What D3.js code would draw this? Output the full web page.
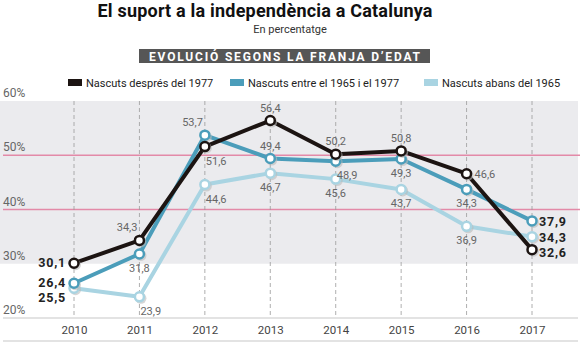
<!DOCTYPE html>
<html>
<head>
<meta charset="utf-8">
<script src="https://cdn.jsdelivr.net/npm/d3@7"></script>
<style>
body { margin: 0; background: #fff; }
svg { display: block; font-family: Roboto, "Open Sans", sans-serif; }
</style>
</head>
<body>
<script>
// data
var years = [2010, 2011, 2012, 2013, 2014, 2015, 2016, 2017]
var seriesNames = ['Nascuts després del 1977', 'Nascuts entre el 1965 i el 1977', 'Nascuts abans del 1965']
var after1977 = [30.1, 34.3, 51.6, 56.4, 50.2, 50.8, 46.6, 32.6]
var between = [26.4, 31.8, 53.7, 49.4, 48.9, 49.3, 43.7, 37.9]
var before1965 = [25.5, 23.9, 44.6, 46.7, 45.6, 43.7, 36.9, 35.0]
// printed labels (the source prints 34,3 for the middle group in 2016)
var after1977Labels = ['30,1', '34,3', '51,6', '56,4', '50,2', '50,8', '46,6', '32,6']
var betweenLabels = ['26,4', '31,8', '53,7', '49,4', '48,9', '49,3', '34,3', '37,9']
var before1965Labels = ['25,5', '23,9', '44,6', '46,7', '45,6', '43,7', '36,9', '34,3']
var yTicks = [20, 30, 40, 50, 60]

var colors = ['#1c1412', '#4b9dba', '#a9d4e2']

// where each label goes: L/R = bold at the ends, a = above, b = below, al/br = diagonal, r = right
var placeAfter = ['L', 'al', 'br', 'a', 'a', 'a', 'r', 'Rd']
var placeBetween = ['L', 'b', 'al', 'a', 'br', 'b', 'b', 'R']
var placeBefore = ['Ld', 'br', 'br', 'b', 'b', 'b', 'b', 'R']

var width = 580, height = 354

var svg = d3.select('body').append('svg')
	.attr('width', width)
	.attr('height', height)

var x = d3.scalePoint()
	.domain(years)
	.range([74, 532])

var y = d3.scaleLinear()
	.domain([20, 60])
	.range([318, 101])

// titles
svg.append('text')
	.attr('x', 265).attr('y', 17)
	.attr('text-anchor', 'middle')
	.style('font-size', '18px')
	.style('font-weight', 'bold')
	.attr('fill', '#111')
	.attr('textLength', 335)
	.text('El suport a la independència a Catalunya')

svg.append('text')
	.attr('x', 290).attr('y', 33)
	.attr('text-anchor', 'middle')
	.style('font-size', '11px')
	.attr('fill', '#333')
	.text('En percentatge')

svg.append('rect')
	.attr('x', 139).attr('y', 49)
	.attr('width', 291).attr('height', 14)
	.attr('fill', '#565656')

svg.append('text')
	.attr('x', 284.5).attr('y', 60.5)
	.attr('text-anchor', 'middle')
	.style('font-size', '12px')
	.style('font-weight', 'bold')
	.attr('textLength', 271)
	.attr('fill', '#fff')
	.text('EVOLUCIÓ SEGONS LA FRANJA D\u2019EDAT')

// legend
var legendX = [68, 230, 424]
var legend = svg.selectAll('.legend')
	.data(seriesNames)
	.enter()
	.append('g')
		.attr('transform', (d, i) => 'translate(' + legendX[i] + ',79)')

legend.append('rect')
	.attr('width', 14).attr('height', 7)
	.attr('fill', (d, i) => colors[i])

legend.append('text')
	.attr('x', 18).attr('y', 7.5)
	.style('font-size', '11px')
	.attr('fill', '#222')
	.text(d => d)

// background band and grid
svg.append('rect')
	.attr('x', 0).attr('y', y(60))
	.attr('width', 578).attr('height', y(30) - y(60))
	.attr('fill', '#ebebee')

svg.selectAll('.pink')
	.data([40, 50])
	.enter()
	.append('line')
		.attr('x1', 3).attr('x2', 580)
		.attr('y1', d => y(d)).attr('y2', d => y(d))
		.attr('stroke', '#e38aa8')
		.attr('stroke-width', 1.3)

svg.selectAll('.vgrid')
	.data(years)
	.enter()
	.append('line')
		.attr('x1', d => x(d)).attr('x2', d => x(d))
		.attr('y1', y(60)).attr('y2', y(20))
		.attr('stroke', '#9a9a9a')
		.attr('stroke-width', 0.8)
		.attr('stroke-dasharray', '4,3')

svg.append('line')
	.attr('x1', 3).attr('x2', 578)
	.attr('y1', y(20)).attr('y2', y(20))
	.attr('stroke', '#c8c8c8').attr('stroke-width', 1.2)

svg.append('line')
	.attr('x1', 3).attr('x2', 578)
	.attr('y1', 341).attr('y2', 341)
	.attr('stroke', '#c8c8c8').attr('stroke-width', 1.2)

// y tick labels sit above their line
svg.selectAll('.ylab')
	.data(yTicks)
	.enter()
	.append('text')
		.attr('x', 3)
		.attr('y', d => y(d) - 4)
		.style('font-size', '12px')
		.attr('fill', '#666')
		.text(d => d + '%')

// x axis
var xAxis = svg.append('g')
	.attr('transform', 'translate(0,' + y(20) + ')')
	.call(d3.axisBottom(x).tickSize(0).tickPadding(8))
xAxis.select('.domain').remove()
xAxis.selectAll('text')
	.style('font-size', '11.5px')
	.style('font-family', 'Roboto, sans-serif')
	.attr('fill', '#444')

// lines
var series = [
	{values: before1965, labels: before1965Labels, place: placeBefore, color: colors[2]},
	{values: between, labels: betweenLabels, place: placeBetween, color: colors[1]},
	{values: after1977, labels: after1977Labels, place: placeAfter, color: colors[0]}
]

var line = d3.line()
	.x((d, i) => x(years[i]))
	.y(d => y(d))

series.forEach(function(s) {
	svg.append('path')
		.attr('d', line(s.values))
		.attr('fill', 'none')
		.attr('stroke', s.color)
		.attr('stroke-width', 4)
		.attr('stroke-linejoin', 'round')

	// little shadow under the dots
	svg.selectAll(null)
		.data(s.values)
		.enter()
		.append('circle')
			.attr('cx', (d, i) => x(years[i]) + 1.5)
			.attr('cy', d => y(d) + 1.5)
			.attr('r', 5.5)
			.attr('fill', '#bbb')
			.attr('opacity', 0.6)

	svg.selectAll(null)
		.data(s.values)
		.enter()
		.append('circle')
			.attr('cx', (d, i) => x(years[i]))
			.attr('cy', d => y(d))
			.attr('r', 4.5)
			.attr('fill', '#fff')
			.attr('stroke', s.color)
			.attr('stroke-width', 2.5)
})

// value labels
series.forEach(function(s) {
	svg.selectAll(null)
		.data(s.values)
		.enter()
		.append('text')
			.each(function(d, i) {
				var p = s.place[i], t = d3.select(this)
				var cx = x(years[i]), cy = y(d)
				var big = p[0] == 'L' || p[0] == 'R'
				t.style('font-size', big ? '12.5px' : '11px')
					.style('font-weight', big ? 'bold' : 'normal')
					.style('letter-spacing', big ? '0.8px' : '0px')
					.attr('fill', big ? '#222' : '#666')
					.text(s.labels[i])
				if (p == 'L') t.attr('x', cx - 8).attr('y', cy + 4).attr('text-anchor', 'end')
				if (p == 'Ld') t.attr('x', cx - 8).attr('y', cy + 14).attr('text-anchor', 'end')
				if (p == 'R') t.attr('x', cx + 7).attr('y', cy + 5).attr('text-anchor', 'start')
				if (p == 'Rd') t.attr('x', cx + 7).attr('y', cy + 7).attr('text-anchor', 'start')
				if (p == 'r') t.attr('x', cx + 8).attr('y', cy + 4).attr('text-anchor', 'start')
				if (p == 'a') t.attr('x', cx).attr('y', cy - 9).attr('text-anchor', 'middle')
				if (p == 'b') t.attr('x', cx).attr('y', cy + 18).attr('text-anchor', 'middle')
				if (p == 'al') t.attr('x', cx - 2).attr('y', cy - 9).attr('text-anchor', 'end')
				if (p == 'br') t.attr('x', cx + 1).attr('y', cy + 18).attr('text-anchor', 'start')
			})
})
</script>
</body>
</html>
